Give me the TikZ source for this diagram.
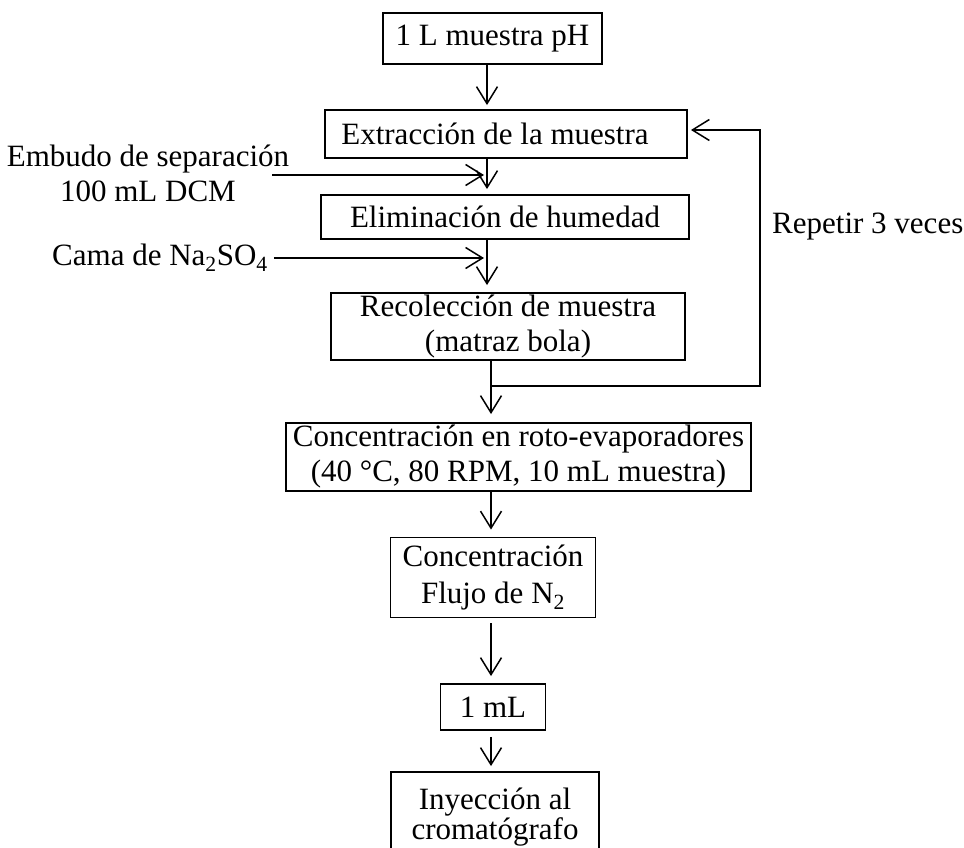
\documentclass[tikz,border=0pt]{standalone}
\usepackage{fontspec}
\setmainfont{Liberation Serif}
\usetikzlibrary{arrows.meta}
\begin{document}
\begin{tikzpicture}[x=1pt,y=-1pt,
  box/.style={draw, line width=1.9pt, inner sep=0pt, align=center, font=\fontsize{31}{35}\selectfont},
  lbl/.style={inner sep=0pt, align=center, font=\fontsize{31}{35}\selectfont},
  arr/.style={line width=1.5pt, -{Straight Barb[length=17pt,width=21pt,line width=1.5pt]}}]
\clip (0,0) rectangle (964,848);
\node[box, minimum width=219pt, minimum height=51pt] (b1) at (492.5,38.5) {1 L muestra pH};
\node[box, minimum width=362pt, minimum height=48pt] (b2) at (506,134) {Extracción de la muestra\hspace*{22pt}};
\node[box, minimum width=368pt, minimum height=44pt] (b3) at (505,217) {Eliminación de humedad};
\node[box, minimum width=354pt, minimum height=67pt] (b4) at (508,326.5) {Recolección de muestra\\(matraz bola)};
\node[box, minimum width=465pt, minimum height=68pt] (b5) at (518.5,457) {Concentración en roto-evaporadores\\(40 °C, 80 RPM, 10 mL muestra)};
\node[box, minimum width=205pt, minimum height=80pt, font=\fontsize{31}{37}\selectfont] (b6) at (493,577.5) {Concentración\\Flujo de N\textsubscript{2}};
\node[box, minimum width=105pt, minimum height=46pt] (b7) at (493,707) {1 mL};
\node[box, minimum width=208pt, minimum height=90pt, font=\fontsize{31}{26}\selectfont] (b8) at (495,817) {Inyección al\\cromatógrafo};

\coordinate (ax) at (487,0);
\coordinate (bx) at (491,0);
\coordinate (rx) at (760,0);

\draw[arr, shorten >=4pt] (b1.south -| ax) -- (b2.north -| ax);
\draw[arr, shorten >=5pt] (b2.south -| ax) -- (b3.north -| ax);
\draw[arr, shorten >=7pt] (b3.south -| ax) -- (b4.north -| ax);
\draw[arr, shorten >=8pt] (b4.south -| bx) -- (b5.north -| bx);
\draw[arr, shorten >=7pt] (b5.south -| bx) -- (b6.north -| bx);
\draw[arr, shorten >=7pt, shorten <=5pt] (b6.south -| bx) -- (b7.north -| bx);
\draw[arr, shorten >=5pt, shorten <=6pt] (b7.south -| bx) -- (b8.north -| bx);

\coordinate (lp) at (491,386);
\draw[arr, shorten >=3pt] (lp) -- (lp -| rx) |- ([yshift=4pt]b2.east);

\node[lbl] (emb) at (148,173) {Embudo de separación\\100 mL DCM};
\coordinate (e1) at (272,175);
\draw[arr, shorten >=3pt] (e1) -- (e1 -| ax);

\node[lbl, anchor=west] (cama) at (52,258) {Cama de Na\textsubscript{2}SO\textsubscript{4}};
\draw[arr, shorten >=3pt] ([xshift=6pt]cama.east) -- (cama.east -| ax);

\node[lbl, anchor=west] (rep) at (772,227) {Repetir 3 veces};
\end{tikzpicture}
\end{document}
